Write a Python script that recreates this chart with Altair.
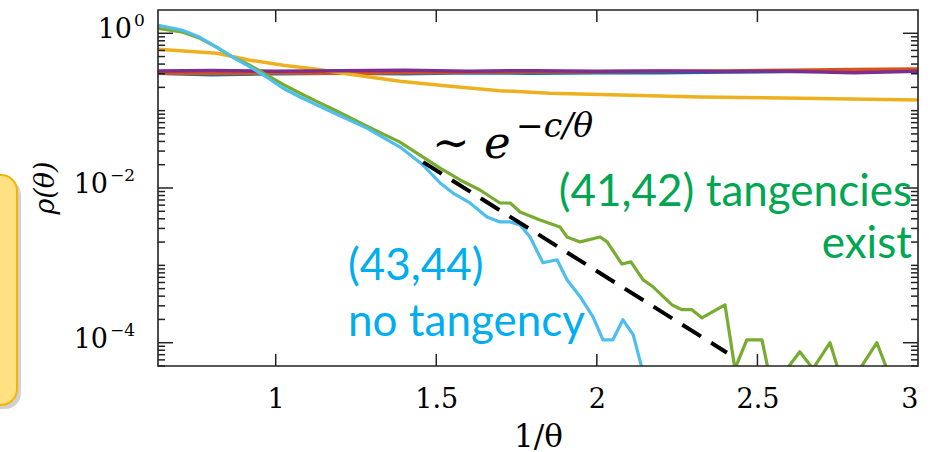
import altair as alt
import pandas as pd

# ---------------- data ----------------
flat_x = [0.634, 0.8, 1.0, 1.2, 1.4, 1.6, 1.8, 2.0, 2.2, 2.4, 2.6, 2.8, 3.0]
blue_flat = [0.305, 0.290, 0.300, 0.305, 0.300, 0.310, 0.305, 0.310, 0.310, 0.315, 0.320, 0.325, 0.330]
red_flat = [0.305, 0.302, 0.306, 0.305, 0.310, 0.314, 0.316, 0.318, 0.322, 0.326, 0.332, 0.340, 0.346]
purple_flat = [0.326, 0.330, 0.322, 0.328, 0.334, 0.324, 0.329, 0.322, 0.326, 0.320, 0.324, 0.309, 0.324]

yellow_x = [0.634, 0.817, 0.920, 1.023, 1.129, 1.231, 1.387, 1.543, 1.698, 1.854, 2.010, 2.321, 2.632, 3.0]
yellow_y = [0.622, 0.552, 0.449, 0.386, 0.343, 0.296, 0.240, 0.207, 0.181, 0.168, 0.162, 0.150, 0.145, 0.137]

green_x = [0.634, 0.711, 0.764, 0.817, 0.867, 0.920, 0.973, 1.023, 1.076, 1.129, 1.185, 1.284,
           1.387, 1.459, 1.512, 1.574, 1.636, 1.698, 1.730, 1.761, 1.823, 1.885, 1.907, 1.948,
           2.010, 2.032, 2.078, 2.106, 2.144, 2.175, 2.234, 2.265, 2.296, 2.327, 2.399, 2.430,
           2.467, 2.514, 2.533, 2.592, 2.632, 2.673, 2.726, 2.751, 2.819, 2.872, 2.903, 3.0]
green_y = [1.16, 1.03, 0.861, 0.659, 0.490, 0.386, 0.287, 0.218, 0.168, 0.131, 0.101, 0.0631,
           0.0392, 0.0251, 0.0181, 0.0127, 0.00942, 0.00640, 0.00640, 0.00490, 0.00386, 0.00314, 0.00233, 0.00201,
           0.00233, 0.00201, 0.00104, 0.00111, 0.000650, 0.000528, 0.000309, 0.000267, 0.000267, 0.000210, 0.000309, 0,
           0.000109, 0.000109, 0, 0, 0.0000766, 0, 0.000100, 0, 0, 0.000100, 0, 0]

lblue_x = [0.634, 0.711, 0.764, 0.817, 0.867, 0.920, 0.973, 1.023, 1.076, 1.129, 1.185, 1.284,
           1.387, 1.459, 1.512, 1.552, 1.605, 1.658, 1.698, 1.730, 1.761, 1.792, 1.832, 1.876,
           1.907, 1.948, 1.988, 2.019, 2.050, 2.081, 2.113, 2.141]
lblue_y = [1.27, 1.09, 0.887, 0.659, 0.490, 0.368, 0.270, 0.195, 0.150, 0.118, 0.092, 0.0594,
           0.0338, 0.0198, 0.0116, 0.00861, 0.00640, 0.00422, 0.00364, 0.00364, 0.00333, 0.00233, 0.00108, 0.00118,
           0.000650, 0.000393, 0.000216, 0.000109, 0.000109, 0.000198, 0.000127, 0]

fit_x = [1.459, 2.405]
fit_y = [0.0216, 0.0000743]

x_ticks = [1, 1.5, 2, 2.5]
x_labels = [1, 1.5, 2, 2.5, 3]
major_y = [1e-4, 1e-2, 1]
major_exp = ["−4", "−2", "0"]
minor_y = [m * 10.0 ** e for e in range(-5, 1) for m in range(1, 10)
           if 5e-5 <= m * 10.0 ** e < 2 and not (m == 1 and e in (-4, -2, 0))]

X_DOMAIN = [0.6335, 3.0]
Y_DOMAIN = [5e-5, 2.0]
Y_FLOOR = 4.6e-5   # zero values are drawn just below the bottom edge
W, H = 760, 356
SERIF = "DejaVu Serif"
SANS = "Lato"
FRAME = "#222222"

xscale = alt.Scale(domain=X_DOMAIN, nice=False, zero=False)
yscale = alt.Scale(type="log", domain=Y_DOMAIN, nice=False)
xaxis = alt.Axis(values=x_labels, format="~g", ticks=False, tickSize=0, domain=False, grid=False,
                 labelFont=SERIF, labelFontSize=27, labelColor="black", labelPadding=20,
                 title="1/θ", titleFont=SERIF, titleFontSize=31, titleFontWeight="normal",
                 titleColor="black", titlePadding=10)


def X(field):
    return alt.X(f"{field}:Q", scale=xscale, axis=xaxis)


def Y(field):
    return alt.Y(f"{field}:Q", scale=yscale, axis=None)


def line_layer(xs, ys, color, width, dash=None):
    df = pd.DataFrame({"x": xs, "y": ys})
    kw = dict(color=color, strokeWidth=width, clip=True, strokeJoin="round")
    if dash:
        kw["strokeDash"] = dash
        kw["strokeCap"] = "butt"
    return (alt.Chart(df)
            .transform_calculate(yc=f"max(datum.y, {Y_FLOOR})")
            .mark_line(**kw)
            .encode(x=X("x"), y=Y("yc")))


layers = []

# callout box at left (cut off)
box = pd.DataFrame({"a": [0]})
layers.append(alt.Chart(box).mark_rect(color="#9a9a9a", opacity=0.45, cornerRadius=16)
              .encode(x=alt.value(-220), x2=alt.value(-137), y=alt.value(169), y2=alt.value(399)))
layers.append(alt.Chart(box).mark_rect(fill="#FFE184", stroke="#F5B400", strokeWidth=2, cornerRadius=16)
              .encode(x=alt.value(-220), x2=alt.value(-141), y=alt.value(165), y2=alt.value(395)))

layers.append(line_layer(flat_x, blue_flat, "#0072BD", 3.5))
layers.append(line_layer(flat_x, red_flat, "#D95319", 3.5))
layers.append(line_layer(yellow_x, yellow_y, "#EDB120", 3.5))
layers.append(line_layer(flat_x, purple_flat, "#7E2F8E", 3.5))
layers.append(line_layer(green_x, green_y, "#77AC30", 3.2))
layers.append(line_layer(lblue_x, lblue_y, "#4DBEEE", 3.2))
layers.append(line_layer(fit_x, fit_y, "black", 4, dash=[22, 12]))

# ticks (inward)
xt = pd.DataFrame({"v": x_ticks})
maj = pd.DataFrame({"v": major_y, "e": major_exp})
mnr = pd.DataFrame({"v": minor_y})
tick_style = dict(color=FRAME, strokeWidth=1.5)
layers.append(alt.Chart(xt).mark_rule(**tick_style).encode(x=X("v"), y=alt.value(H), y2=alt.value(H - 12)))
layers.append(alt.Chart(xt).mark_rule(**tick_style).encode(x=X("v"), y=alt.value(0), y2=alt.value(12)))
layers.append(alt.Chart(maj).mark_rule(**tick_style).encode(y=Y("v"), x=alt.value(0), x2=alt.value(15)))
layers.append(alt.Chart(maj).mark_rule(**tick_style).encode(y=Y("v"), x=alt.value(W - 15), x2=alt.value(W)))
layers.append(alt.Chart(mnr).mark_rule(**tick_style).encode(y=Y("v"), x=alt.value(0), x2=alt.value(7)))
layers.append(alt.Chart(mnr).mark_rule(**tick_style).encode(y=Y("v"), x=alt.value(W - 7), x2=alt.value(W)))

# y tick labels 10^k
for filt, bx in [("datum.v == 1", -26), ("datum.v < 1", -50)]:
    layers.append(alt.Chart(maj).transform_filter(filt)
                  .mark_text(text="10", font=SERIF, fontSize=27, align="right", baseline="middle",
                             dy=-3, color="black")
                  .encode(x=alt.value(bx), y=Y("v")))
    layers.append(alt.Chart(maj).transform_filter(filt)
                  .mark_text(font=SERIF, fontSize=17, align="left", baseline="middle",
                             dy=-12, color="black")
                  .encode(x=alt.value(bx + 2), y=Y("v"), text="e:N"))

# frame
layers.append(alt.Chart(box).mark_rect(fillOpacity=0, stroke=FRAME, strokeWidth=1.6)
              .encode(x=alt.value(0), x2=alt.value(W), y=alt.value(0), y2=alt.value(H)))

# y title
layers.append(alt.Chart(box).mark_text(text="ρ(θ)", font=SERIF, fontSize=27, fontStyle="italic",
                                       angle=270, align="center", baseline="middle", color="black")
              .encode(x=alt.value(-112), y=alt.value(178)))

# annotations
GREEN_T = "#00A651"
BLUE_T = "#00AEEF"
ann = [
    ("(41,42) tangencies", W - 6, 196, "right", GREEN_T),
    ("exist", W - 6, 248, "right", GREEN_T),
    ("(43,44)", 190, 270, "left", BLUE_T),
    ("no tangency", 190, 326, "left", BLUE_T),
]
for txt, ax, ay, al, col in ann:
    layers.append(alt.Chart(box).mark_text(text=txt, font=SANS, fontSize=44, align=al,
                                           baseline="alphabetic", color=col)
                  .encode(x=alt.value(ax), y=alt.value(ay)))

layers.append(alt.Chart(box).mark_text(text="∼ e", font=SERIF, fontSize=45, fontStyle="italic",
                                       align="left", baseline="alphabetic", color="black")
              .encode(x=alt.value(274), y=alt.value(148)))
layers.append(alt.Chart(box).mark_text(text="−c/θ", font=SERIF, fontSize=33, fontStyle="italic",
                                       align="left", baseline="alphabetic", color="black")
              .encode(x=alt.value(358), y=alt.value(127)))

chart = (alt.layer(*layers)
         .properties(width=W, height=H,
                     padding={"left": 158, "top": 10, "right": 14, "bottom": 86},
                     autosize=alt.AutoSizeParams(type="none"),
                     background="white")
         .configure_view(stroke=None))

chart.save("out.html", embed_options={"renderer": "svg", "actions": False})
